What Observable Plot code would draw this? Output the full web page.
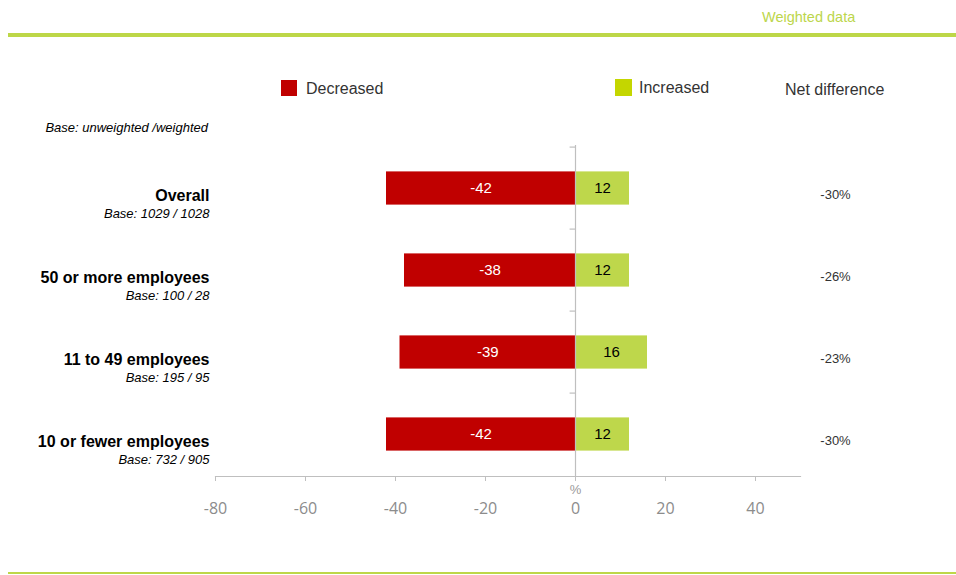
<!DOCTYPE html>
<html><head><meta charset="utf-8">
<script src="https://cdn.jsdelivr.net/npm/d3@7"></script>
<script src="https://cdn.jsdelivr.net/npm/@observablehq/plot@0.6"></script>
<style>
body{margin:0;background:#fff;}
#wrap{position:relative;width:956px;height:575px;font-family:"Liberation Sans",Arial,sans-serif;overflow:hidden;background:#fff;}
.abs{position:absolute;white-space:nowrap;line-height:1;}
#chart{position:absolute;left:0;top:0;}
</style></head><body>
<div id="wrap">
  <div id="chart"></div>
  <div class="abs" style="left:762px;top:10px;font-size:14.5px;color:#bcd64b;">Weighted data</div>
  <div class="abs" style="left:8px;top:33px;width:948px;height:4px;background:#bdd748;"></div>
  <div class="abs" style="left:281px;top:80px;width:16px;height:16px;background:#c00000;"></div>
  <div class="abs" style="left:306px;top:81px;font-size:16px;color:#333;">Decreased</div>
  <div class="abs" style="left:615px;top:79px;width:17px;height:17px;background:#c4d600;"></div>
  <div class="abs" style="left:639px;top:80px;font-size:16px;color:#333;">Increased</div>
  <div class="abs" style="left:785px;top:82px;font-size:16px;color:#333;">Net difference</div>
  <div class="abs" style="right:748px;top:121px;font-size:13px;font-style:italic;color:#000;">Base: unweighted /weighted</div>
  <div class="abs" style="left:8px;top:572px;width:948px;height:2px;background:#bdd748;"></div>
</div>
<script>
const categories = ["Overall", "50 or more employees", "11 to 49 employees", "10 or fewer employees"];
const bases = ["Base: 1029 / 1028", "Base: 100 / 28", "Base: 195 / 95", "Base: 732 / 905"];
const decreased = [-42, -38, -39, -42];
const increased = [12, 12, 16, 12];
const netDifference = ["-30%", "-26%", "-23%", "-30%"];
const xTicks = [-80, -60, -40, -20, 0, 20, 40];

const rows = categories.map((c, i) => ({
  category: c, base: bases[i], dec: decreased[i], inc: increased[i], net: netDifference[i]
}));

const red = "#c00000", green = "#bed74b", axisGray = "#bfbfbf";

const chart = Plot.plot({
  width: 956, height: 575,
  marginLeft: 215, marginRight: 156, marginTop: 145, marginBottom: 99,
  style: {fontFamily: "'Liberation Sans', Arial, sans-serif", background: "transparent", overflow: "visible"},
  x: {domain: [-80, 50]},
  y: {domain: categories, padding: 0, axis: null},
  marks: [
    Plot.barX(rows, {x1: 0, x2: "dec", y: "category", fill: red, insetTop: 24.4, insetBottom: 24.4}),
    Plot.barX(rows, {x1: 0, x2: "inc", y: "category", fill: green, insetTop: 24.4, insetBottom: 24.4}),
    Plot.ruleX([0], {stroke: axisGray, strokeWidth: 1.2}),
    Plot.ruleY(rows, {y: "category", x1: -1.2, x2: 0, dy: -41.4, stroke: axisGray, strokeWidth: 1.2}),
    Plot.frame({anchor: "bottom", stroke: axisGray, strokeWidth: 1.2}),
    Plot.axisX({ticks: xTicks, tickSize: 5, tickPadding: 21, stroke: axisGray, fill: "#8c8c8c",
      fontSize: 16, fontFamily: "'Open Sans', sans-serif", label: null, tickFormat: d => String(d)}),
    Plot.text(["%"], {x: 0, frameAnchor: "bottom", dy: 17, text: d => d, fill: "#9a9a9a", fontSize: 13}),
    Plot.text(rows, {x: d => d.dec / 2, y: "category", text: d => String(d.dec), fill: "white", fontSize: 15}),
    Plot.text(rows, {x: d => d.inc / 2, y: "category", text: d => String(d.inc), fill: "black", fontSize: 15}),
    Plot.text(rows, {y: "category", text: "category", frameAnchor: "left", textAnchor: "end", dx: -6, dy: 7,
      fontWeight: "bold", fontSize: 16, fill: "#000"}),
    Plot.text(rows, {y: "category", text: "base", frameAnchor: "left", textAnchor: "end", dx: -6, dy: 25,
      fontStyle: "italic", fontSize: 13, fill: "#000"}),
    Plot.text(rows, {y: "category", text: "net", frameAnchor: "right", textAnchor: "middle", dx: 35, dy: 6,
      fontSize: 13, fill: "#333"})
  ]
});
document.getElementById("chart").appendChild(chart);
</script>
</body></html>
